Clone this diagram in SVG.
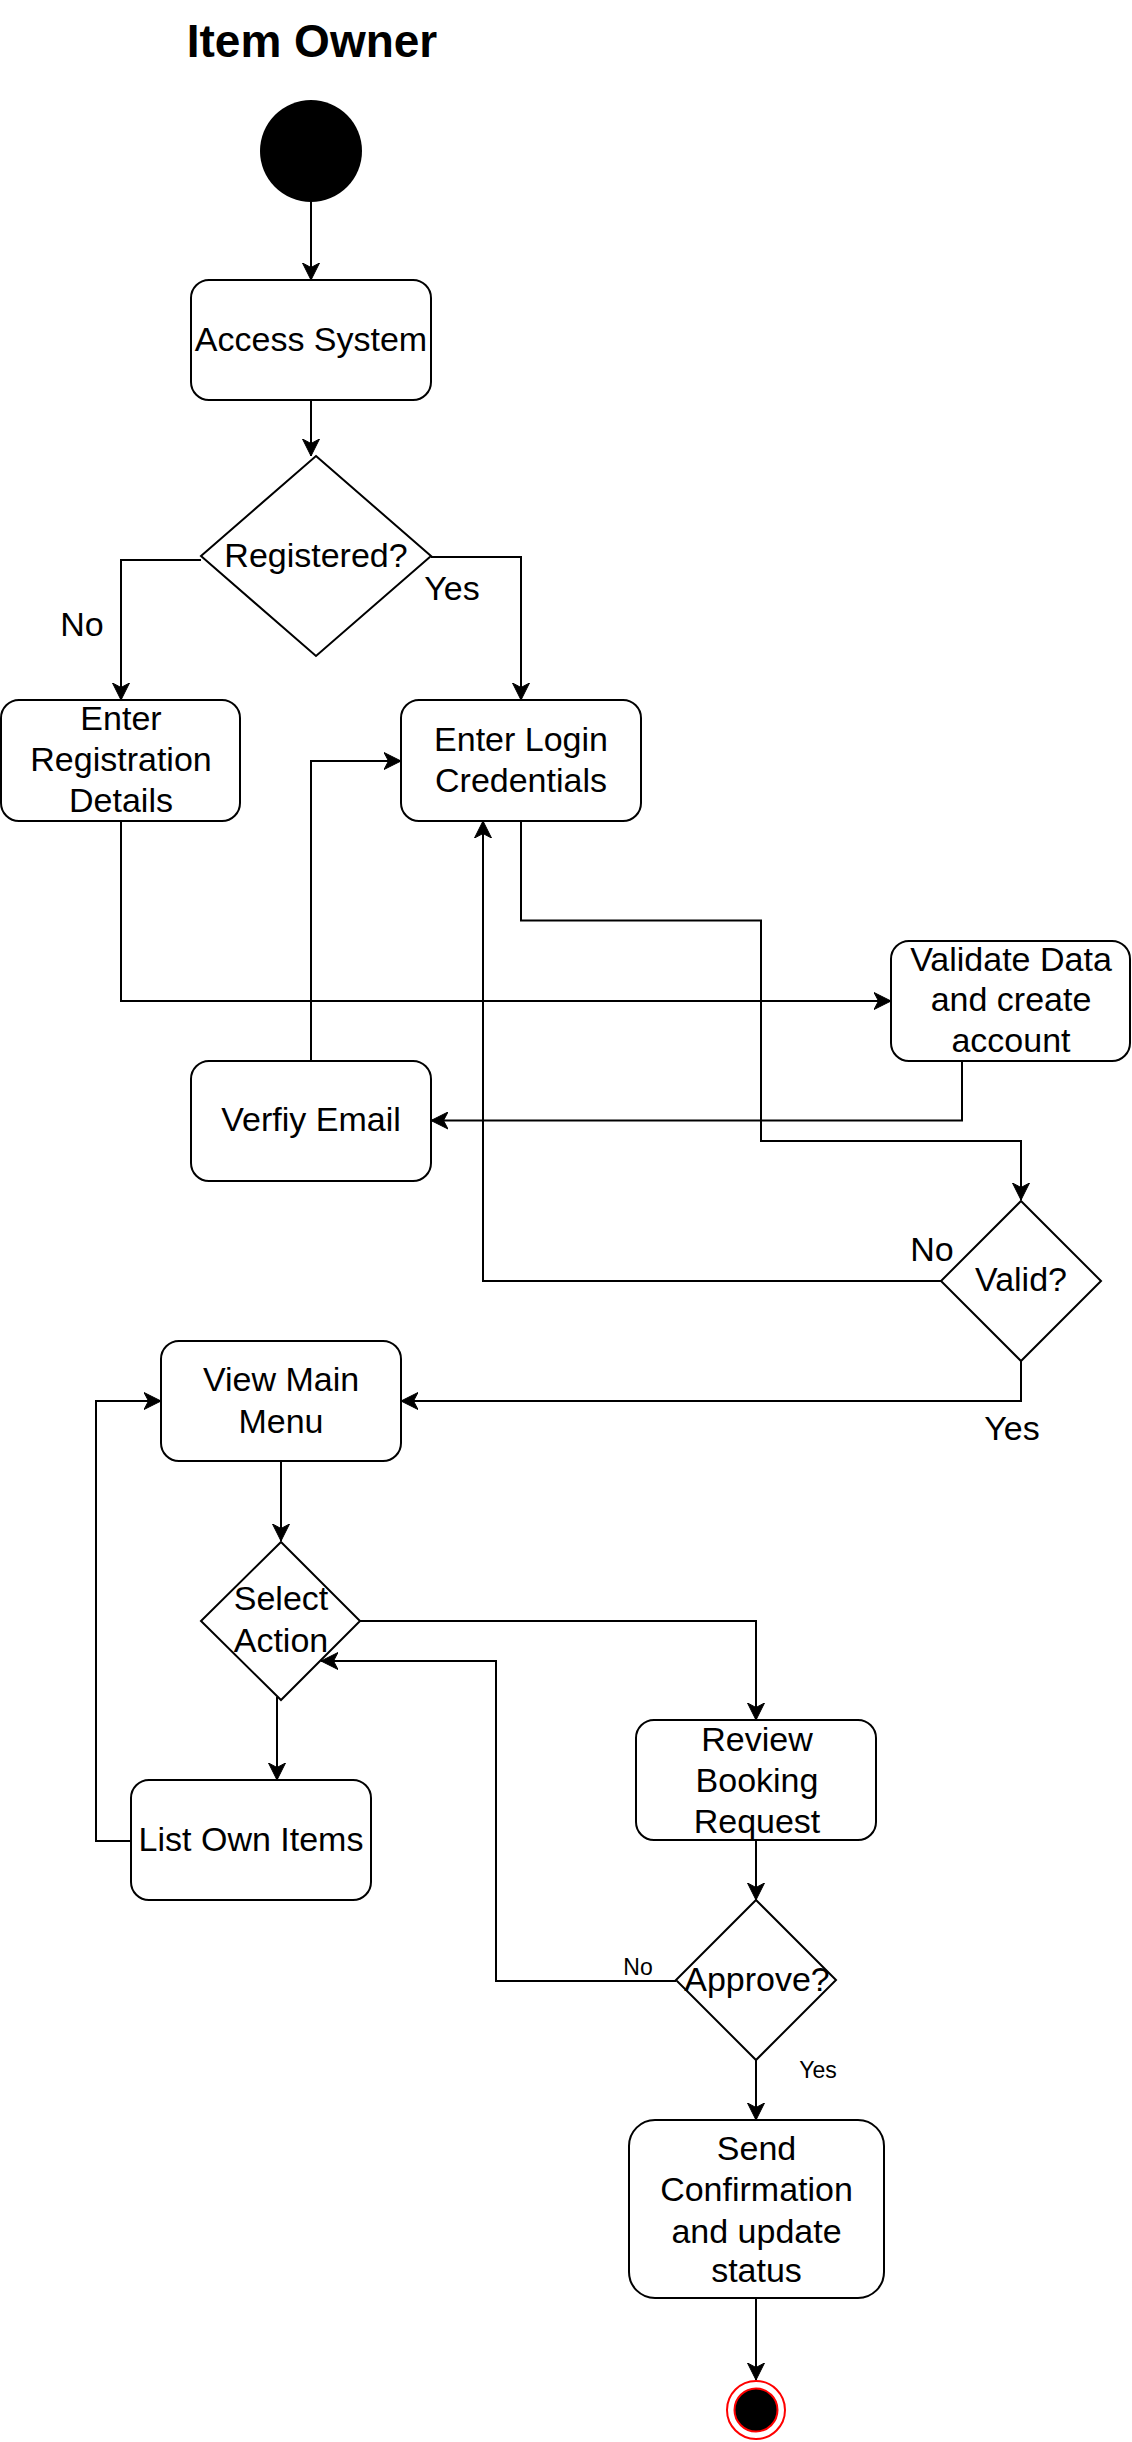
<svg xmlns="http://www.w3.org/2000/svg" width="1132" height="2442" viewBox="0 0 1132 2442">
  <style>
    text { font-family: "Liberation Sans", Arial, sans-serif; fill: #000; text-anchor: middle; }
    .title { font-size: 46px; font-weight: bold; }
    .lbl { font-size: 34px; }
    .small { font-size: 23px; }
    .box { fill: #fff; stroke: #000; stroke-width: 2; }
    .dia { fill: #fff; stroke: #000; stroke-width: 2; }
    .edge { fill: none; stroke: #000; stroke-width: 2; marker-end: url(#arrow); }
  </style>
  <defs>
    <marker id="arrow" viewBox="0 0 18 18" refX="17" refY="9" markerWidth="18" markerHeight="18" markerUnits="userSpaceOnUse" orient="auto">
      <path d="M17 9 L0 0.5 L4.5 9 L0 17.5 Z" fill="#000" stroke="#000" stroke-width="1"/>
    </marker>
  </defs>
  <rect width="1132" height="2442" fill="#fff"/>

  <text class="title" x="312" y="57">Item Owner</text>

  <!-- connectors -->
  <g id="connectors">
    <path class="edge" d="M311 201 V280"/>
    <path class="edge" d="M311 400 V456"/>
    <path class="edge" d="M201 560 H121 V700"/>
    <path class="edge" d="M431 557 H521 V700"/>
    <path class="edge" d="M121 821 V1001 H891"/>
    <path class="edge" d="M962 1061 V1120.5 H431"/>
    <path class="edge" d="M311 1061 V761 H401"/>
    <path class="edge" d="M521 821 V920.5 H761 V1141 H1021 V1200"/>
    <path class="edge" d="M941 1281 H483 V821"/>
    <path class="edge" d="M1021 1361 V1401 H401"/>
    <path class="edge" d="M281 1461 V1541"/>
    <path class="edge" d="M277 1697 V1780"/>
    <path class="edge" d="M131 1841 H96 V1401 H161"/>
    <path class="edge" d="M360 1621 H756 V1720"/>
    <path class="edge" d="M756 1840 V1900"/>
    <path class="edge" d="M676 1981 H496 V1661 H321"/>
    <path class="edge" d="M756 2060 V2120"/>
    <path class="edge" d="M756 2298 V2380"/>

    <text class="lbl" x="82" y="636">No</text>
    <text class="lbl" x="452" y="600">Yes</text>
    <text class="lbl" x="932" y="1261">No</text>
    <text class="lbl" x="1012" y="1440">Yes</text>
    <text class="small" x="638" y="1975">No</text>
    <text class="small" x="818" y="2078">Yes</text>
  </g>

  <!-- nodes -->
  <g id="start">
    <circle cx="311" cy="151" r="51" fill="#000"/>
  </g>

  <g id="access-system">
    <rect class="box" x="191" y="280" width="240" height="120" rx="18"/>
    <text class="lbl" x="311" y="351">Access System</text>
  </g>

  <g id="registered">
    <polygon class="dia" points="316,456 431,556 316,656 201,556"/>
    <text class="lbl" x="316" y="567">Registered?</text>
  </g>

  <g id="enter-registration">
    <rect class="box" x="1" y="700" width="239" height="121" rx="18"/>
    <text class="lbl" x="121" y="730">Enter</text>
    <text class="lbl" x="121" y="770.5">Registration</text>
    <text class="lbl" x="121" y="811.5">Details</text>
  </g>

  <g id="enter-login">
    <rect class="box" x="401" y="700" width="240" height="121" rx="18"/>
    <text class="lbl" x="521" y="750.5">Enter Login</text>
    <text class="lbl" x="521" y="792">Credentials</text>
  </g>

  <g id="validate-data">
    <rect class="box" x="891" y="941" width="239" height="120" rx="18"/>
    <text class="lbl" x="1011" y="970.5">Validate Data</text>
    <text class="lbl" x="1011" y="1010.5">and create</text>
    <text class="lbl" x="1011" y="1051.5">account</text>
  </g>

  <g id="verify-email">
    <rect class="box" x="191" y="1061" width="240" height="120" rx="18"/>
    <text class="lbl" x="311" y="1131">Verfiy Email</text>
  </g>

  <g id="valid">
    <polygon class="dia" points="1021,1201 1101,1281 1021,1361 941,1281"/>
    <text class="lbl" x="1021" y="1291">Valid?</text>
  </g>

  <g id="view-main-menu">
    <rect class="box" x="161" y="1341" width="240" height="120" rx="18"/>
    <text class="lbl" x="281" y="1391">View Main</text>
    <text class="lbl" x="281" y="1433">Menu</text>
  </g>

  <g id="select-action">
    <polygon class="dia" points="281,1542 360,1621 281,1700 201,1621"/>
    <text class="lbl" x="281" y="1610">Select</text>
    <text class="lbl" x="281" y="1652">Action</text>
  </g>

  <g id="list-own-items">
    <rect class="box" x="131" y="1780" width="240" height="120" rx="18"/>
    <text class="lbl" x="251" y="1851">List Own Items</text>
  </g>

  <g id="review-booking">
    <rect class="box" x="636" y="1720" width="240" height="120" rx="18"/>
    <text class="lbl" x="757" y="1751">Review</text>
    <text class="lbl" x="757" y="1792">Booking</text>
    <text class="lbl" x="757" y="1833">Request</text>
  </g>

  <g id="approve">
    <polygon class="dia" points="756,1900 836,1980 756,2060 676,1980"/>
    <text class="lbl" x="757" y="1991">Approve?</text>
  </g>

  <g id="send-confirmation">
    <rect class="box" x="629" y="2120" width="255" height="178" rx="26"/>
    <text class="lbl" x="756.5" y="2160">Send</text>
    <text class="lbl" x="756.5" y="2201">Confirmation</text>
    <text class="lbl" x="756.5" y="2242.5">and update</text>
    <text class="lbl" x="756.5" y="2282">status</text>
  </g>

  <g id="end">
    <circle cx="756" cy="2410" r="29" fill="#fff" stroke="#f00" stroke-width="2"/>
    <circle cx="756" cy="2410" r="21.5" fill="#000" stroke="#f00" stroke-width="2"/>
  </g>
</svg>
